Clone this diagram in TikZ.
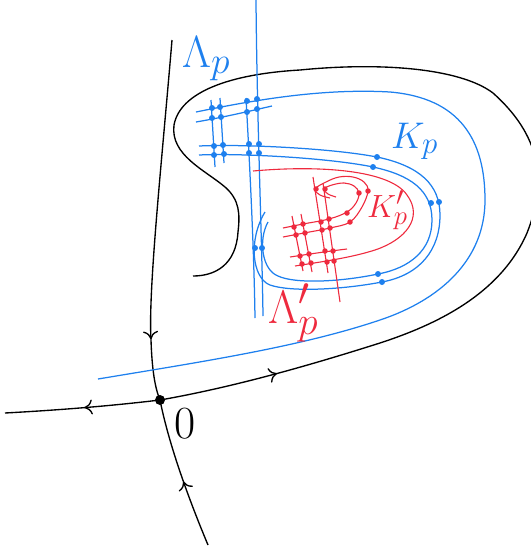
\documentclass[tikz,border=0pt]{standalone}
\usetikzlibrary{decorations.markings,arrows.meta}
\definecolor{myblue}{RGB}{30,128,238}
\definecolor{myred}{RGB}{238,42,62}
\begin{document}
\begin{tikzpicture}[x=1pt,y=-1pt,
  blk/.style={line width=1.35pt,black},
  bl/.style={line width=1.25pt,myblue},
  rd/.style={line width=1.1pt,myred},
  bdot/.style={circle,fill=myblue,inner sep=0pt,minimum size=6pt},
  rdot/.style={circle,fill=myred,inner sep=0pt,minimum size=5.5pt},
  tip/.style={decoration={markings,mark=at position #1 with {\arrow{To[length=8pt,width=15pt]}}},postaction={decorate}},
  lbl/.style={anchor=base west,inner sep=0pt},
  ]
\useasboundingbox (0,0) rectangle (531,550);
\clip (0,0) rectangle (531,550);

% black stable manifold
\draw[blk,tip=300pt] (172,40) .. controls (162,160) and (148,290) .. (151,340) .. controls (152,370) and (155,388) .. (160,400);
\draw[blk,tip=68pt] (208,545) .. controls (185,490) and (168,440) .. (160,400);
% black unstable manifold
\draw[blk,tip=76pt] (160,400) .. controls (110,406) and (60,410) .. (5,413);
\draw[blk,tip=120pt] (160,400) .. controls (240,386) and (320,362) .. (380,343)
  .. controls (435,325) and (500,295) .. (527,233)
  .. controls (548,180) and (540,135) .. (493,93)
  .. controls (460,68) and (380,62) .. (300,70)
  .. controls (230,74) and (180,92) .. (174,125)
  .. controls (170,155) and (205,170) .. (225,187)
  .. controls (240,200) and (240,215) .. (238,232)
  .. controls (236,265) and (215,276) .. (193,276);
\node[circle,fill=black,inner sep=0pt,minimum size=10pt] (O) at (160,400) {};

% blue curves
\draw[bl] (196,112) .. controls (250,101) and (320,88) .. (390,92)
  .. controls (460,98) and (485,140) .. (485,200)
  .. controls (485,260) and (440,300) .. (380,320)
  .. controls (300,347) and (200,362) .. (98,379);
\draw[bl] (199,146) .. controls (240,144) and (330,148) .. (377,157)
  .. controls (420,166) and (440,185) .. (440,215)
  .. controls (440,250) and (420,275) .. (382,282)
  .. controls (340,290) and (290,292) .. (270,285)
  .. controls (252,278) and (248,240) .. (265,212);
\draw[bl] (199,155) .. controls (240,153) and (330,158) .. (373,167)
  .. controls (410,175) and (432,190) .. (432,220)
  .. controls (432,250) and (410,268) .. (378,274)
  .. controls (340,282) and (295,284) .. (278,276)
  .. controls (262,270) and (258,240) .. (268,222);
\draw[bl] (196,122) .. controls (225,117) and (250,111) .. (272,106);
\draw[bl] (211,100) -- (215,167);
\draw[bl] (220,98) -- (224,163);
\draw[bl] (246,98) .. controls (250,170) and (254,250) .. (255,318);
\draw[bl] (256,0) .. controls (257,120) and (262,240) .. (263,316);
\foreach \p [count=\i] in {(212,108),(220,107),(247,101),(257,99),(212,118),(221,117),(247,112),(257,109),(214,146),(223,145),(249,144),(259,144),(214,155),(224,154),(249,153),(259,153),(377,157),(373,167),(439,202),(431,203),(382,282),(378,274),(255,248),(262,248)}
  \node[bdot] (b\i) at \p {};

% red curves
\draw[rd] (253,171) .. controls (320,165) and (390,170) .. (407,195)
  .. controls (424,218) and (405,240) .. (375,250)
  .. controls (350,258) and (320,262) .. (295,266);
\draw[rd] (290,257) .. controls (310,254) and (330,251) .. (347,249);
\draw[rd] plot[smooth,tension=0.6] coordinates {(283,228) (303,224) (329,219) (347,212) (356,203) (359,193) (354,186) (344,183) (332,185) (324,189) (328,194) (336,197)};
\draw[rd] plot[smooth,tension=0.6] coordinates {(283,237) (304,233) (330,228) (350,222) (362,207) (368,191) (364,182) (353,177) (339,177) (326,182) (315,189) (320,195) (330,198)};
\draw[rd] (292,216) -- (303,271);
\draw[rd] (301,214) -- (312,272);
\draw[rd] (313,177) -- (328,273);
\draw[rd] (323,183) -- (340,302);
\foreach \p [count=\i] in {(294,227),(303,224),(321,222),(329,219),(296,235),(305,233),(322,230),(330,228),(300,256),(309,254),(325,251),(333,251),(302,264),(311,263),(327,262),(334,261),(316,189),(325,189),(359,193),(368,191),(347,213),(350,222)}
  \node[rdot] (r\i) at \p {};

% labels
\node[lbl,text=myblue] (Lp) at (182,67) {\scalebox{1.81}{\Huge$\Lambda_p$}};
\node[lbl,text=myblue] (Kp) at (391,148) {\scalebox{1.49}{\Huge$K_p$}};
\node[lbl,text=myred] (Kpp) at (367,217) {\scalebox{1.29}{\Huge$K'_p$}};
\node[lbl,text=myred] (Lpp) at (268,323) {\scalebox{1.89}{\Huge$\Lambda'_p$}};
\node[lbl] (zero) at (174,438) {\scalebox{1.85}{\Huge$0$}};
\end{tikzpicture}
\end{document}
